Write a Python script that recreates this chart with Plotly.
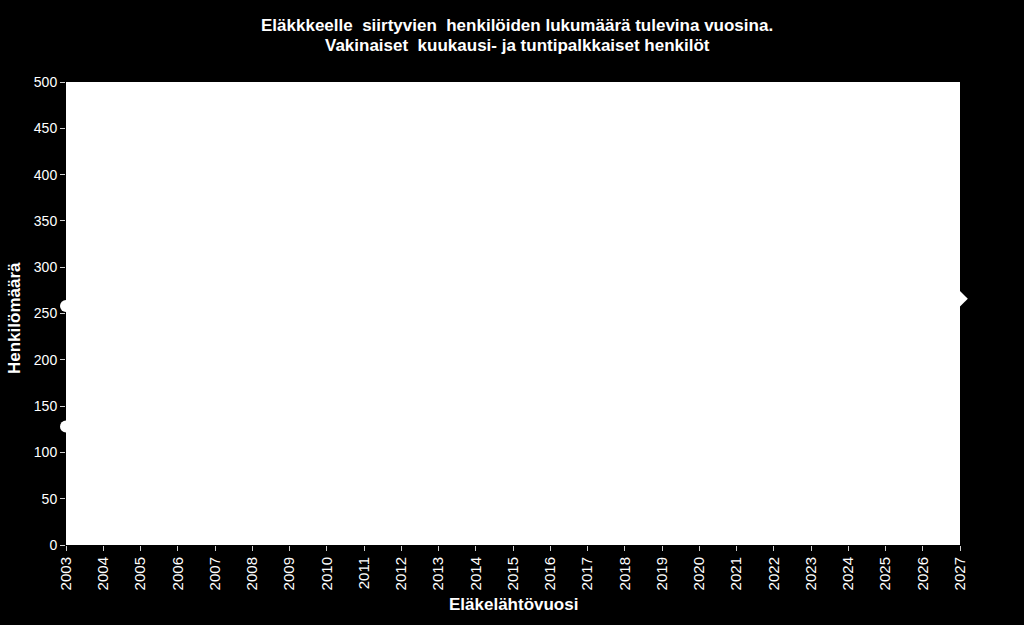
import plotly.graph_objects as go

years = list(range(2003, 2028))
# Series lines are drawn in white on the white plot area (only edge markers show)
series_total = [258, 270, 285, 300, 310, 325, 340, 350, 365, 375, 380, 385, 390, 385, 375,
                365, 350, 340, 325, 315, 300, 290, 280, 272, 266]
series_part = [128, 135, 140, 150, 155, 160, 170, 175, 180, 185, 190, 190, 195, 190, 185,
               180, 175, 170, 165, 160, 150, 145, 140, 135, None]

y_ticks = list(range(0, 501, 50))
title_lines = ["Eläkkkeelle  siirtyvien  henkilöiden lukumäärä tulevina vuosina.",
               "Vakinaiset  kuukausi- ja tuntipalkkaiset henkilöt"]
x_title = "Eläkelähtövuosi"
y_title = "Henkilömäärä"

W, H = 1024, 625
L, R, T, B = 66, 64, 82, 80
ph = H - T - B
pw = W - L - R

fig = go.Figure()
fig.add_trace(go.Scatter(x=years, y=series_total, mode="lines+markers",
                         line=dict(color="white", width=2),
                         marker=dict(symbol=["circle"] + ["diamond"] * 24, size=12, color="white"),
                         cliponaxis=False, showlegend=False, hoverinfo="skip"))
fig.add_trace(go.Scatter(x=years, y=series_part, mode="lines+markers",
                         line=dict(color="white", width=2),
                         marker=dict(symbol="circle", size=12, color="white"),
                         cliponaxis=False, showlegend=False, hoverinfo="skip"))

font = "Liberation Sans, Arial, sans-serif"

def py(pix):
    return (H - B - pix) / ph

def px(pix):
    return (pix - L) / pw

annotations = [
    dict(text="<b>" + title_lines[0] + "</b>", x=px(517), y=py(25), xref="paper", yref="paper",
         xanchor="center", yanchor="middle", showarrow=False, font=dict(size=17, color="white", family=font)),
    dict(text="<b>" + title_lines[1] + "</b>", x=px(517), y=py(45), xref="paper", yref="paper",
         xanchor="center", yanchor="middle", showarrow=False, font=dict(size=17, color="white", family=font)),
    dict(text="<b>" + x_title + "</b>", x=px(513), y=py(604), xref="paper", yref="paper",
         xanchor="center", yanchor="middle", showarrow=False, font=dict(size=17, color="white", family=font)),
    dict(text="<b>" + y_title + "</b>", x=px(14), y=py(318), xref="paper", yref="paper",
         xanchor="center", yanchor="middle", textangle=-90, showarrow=False,
         font=dict(size=17, color="white", family=font)),
]

fig.update_layout(
    width=W, height=H,
    paper_bgcolor="black", plot_bgcolor="white",
    margin=dict(l=L, r=R, t=T, b=B),
    font=dict(family=font, color="white", size=14),
    annotations=annotations,
    xaxis=dict(range=[2003, 2027], tickmode="array", tickvals=years,
               ticktext=[str(y) for y in years], tickangle=-90,
               ticks="outside", ticklen=5, tickcolor="#d0d0d0",
               tickfont=dict(size=15, color="white"),
               showgrid=False, zeroline=False, showline=False),
    yaxis=dict(range=[0, 500], tickmode="array", tickvals=y_ticks,
               ticks="outside", ticklen=5, tickcolor="#d0d0d0",
               tickfont=dict(size=14, color="white"),
               showgrid=False, zeroline=False, showline=False),
)

fig.write_html("out.html", config={"displayModeBar": False},
               post_script="document.body.style.margin='0';document.body.style.padding='0';"
                           "document.body.style.background='black';document.body.style.overflow='hidden';")
